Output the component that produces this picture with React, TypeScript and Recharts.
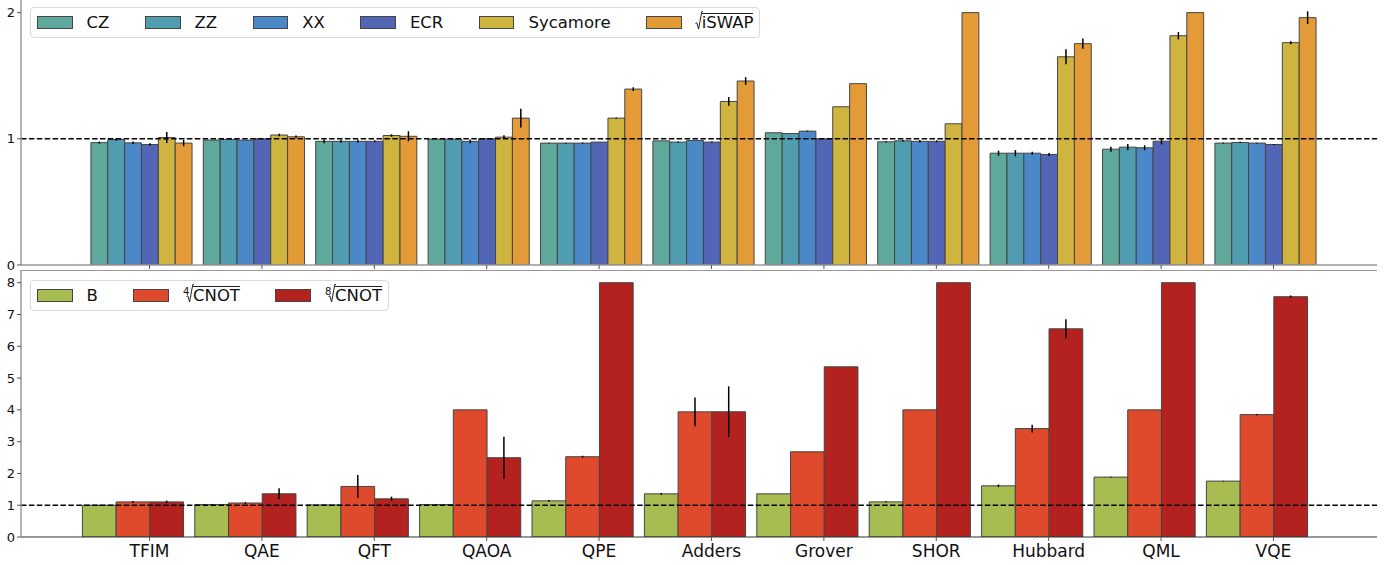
import React from "react"
import { BarChart, Bar, XAxis, YAxis, ReferenceLine, ErrorBar } from "recharts"

// benchmark circuits
const categories = ["TFIM", "QAE", "QFT", "QAOA", "QPE", "Adders", "Grover", "SHOR", "Hubbard", "QML", "VQE"]

// upper panel: normalised cost per native gate set
const cz = [0.97, 0.99, 0.98, 0.997, 0.966, 0.984, 1.048, 0.976, 0.886, 0.918, 0.966]
const zz = [0.994, 0.995, 0.98, 0.997, 0.966, 0.974, 1.042, 0.984, 0.886, 0.934, 0.971]
const xx = [0.968, 0.99, 0.98, 0.98, 0.966, 0.987, 1.061, 0.98, 0.886, 0.929, 0.966]
const ecr = [0.955, 1.0, 0.98, 1.0, 0.974, 0.974, 1.0, 0.98, 0.876, 0.981, 0.955]
const sycamore = [1.01, 1.03, 1.026, 1.013, 1.164, 1.296, 1.254, 1.119, 1.65, 1.817, 1.762]
const iswap = [0.966, 1.016, 1.02, 1.164, 1.394, 1.458, 1.437, 2.0, 1.754, 2.0, 1.96]

const czErr = [0.008, 0, 0.015, 0, 0.003, 0, 0, 0.005, 0.02, 0.02, 0.004]
const zzErr = [0.01, 0, 0.012, 0, 0.003, 0.004, 0, 0.006, 0.025, 0.025, 0.005]
const xxErr = [0.01, 0, 0.012, 0.015, 0.004, 0, 0.004, 0.01, 0.012, 0.02, 0.003]
const ecrErr = [0.01, 0, 0.008, 0, 0, 0.004, 0, 0.008, 0.012, 0.025, 0.004]
const sycamoreErr = [0.044, 0.01, 0.01, 0.015, 0.004, 0.035, 0, 0, 0.06, 0.03, 0.012]
const iswapErr = [0.025, 0.01, 0.04, 0.075, 0.015, 0.03, 0, 0, 0.04, 0, 0.05]

// lower panel: fractional CNOT gate sets
const b = [1.0, 1.02, 1.01, 1.02, 1.137, 1.358, 1.358, 1.105, 1.61, 1.884, 1.758]
const cnot4 = [1.105, 1.07, 1.59, 4.0, 2.526, 3.937, 2.68, 4.0, 3.41, 4.0, 3.85]
const cnot8 = [1.105, 1.36, 1.2, 2.495, 8.0, 3.94, 5.354, 8.0, 6.55, 8.0, 7.56]

const bErr = [0.01, 0.01, 0.01, 0.01, 0.03, 0.03, 0, 0.02, 0.04, 0.01, 0.01]
const cnot4Err = [0.03, 0.03, 0.36, 0, 0.03, 0.45, 0, 0, 0.12, 0, 0.02]
const cnot8Err = [0.04, 0.17, 0.07, 0.66, 0, 0.8, 0, 0, 0.3, 0, 0.04]

const topTicks = [0, 1, 2]
const bottomTicks = [0, 1, 2, 3, 4, 5, 6, 7, 8]

const topRows = categories.map((name, i) => ({
  name,
  cz: cz[i], czErr: czErr[i],
  zz: zz[i], zzErr: zzErr[i],
  xx: xx[i], xxErr: xxErr[i],
  ecr: ecr[i], ecrErr: ecrErr[i],
  sycamore: sycamore[i], sycamoreErr: sycamoreErr[i],
  iswap: iswap[i], iswapErr: iswapErr[i],
}))

const bottomRows = categories.map((name, i) => ({
  name,
  b: b[i], bErr: bErr[i],
  cnot4: cnot4[i], cnot4Err: cnot4Err[i],
  cnot8: cnot8[i], cnot8Err: cnot8Err[i],
}))

const FONT = "'DejaVu Sans', sans-serif"
const EDGE = "#454545"

const topSeries = [
  { key: "cz", label: "CZ", color: "#5ea99b" },
  { key: "zz", label: "ZZ", color: "#509db1" },
  { key: "xx", label: "XX", color: "#4b88c7" },
  { key: "ecr", label: "ECR", color: "#5366b5" },
  { key: "sycamore", label: "Sycamore", color: "#d0b440" },
  { key: "iswap", label: "iSWAP", color: "#e39b38", root: "" },
]

const bottomSeries = [
  { key: "b", label: "B", color: "#a7bd52" },
  { key: "cnot4", label: "CNOT", color: "#de4a2b", root: "4" },
  { key: "cnot8", label: "CNOT", color: "#b4221f", root: "8" },
]

const TOP_BAR = 16.86
const BOTTOM_BAR = 33.72

// matplotlib places the tick half a bar right of the group centre
function makeTick(shift: number, withLabel: boolean) {
  return (props: any) => {
    const { x, y, payload } = props
    const tx = x + shift
    return (
      <g>
        <line x1={tx} x2={tx} y1={y - 4} y2={y} stroke="#555" strokeWidth={1} />
        {withLabel && (
          <text x={tx} y={y + 4} dy="0.71em" textAnchor="middle" fontSize={17} fill="#111" fontFamily={FONT}>
            {payload.value}
          </text>
        )}
      </g>
    )
  }
}

function RootLabel({ index, body }: { index?: string; body: string }) {
  const left = index ? 10 : 6
  return (
    <span style={{ position: "relative", display: "inline-block", paddingLeft: left }}>
      {index && (
        <span style={{ position: "absolute", left: 0, top: 1, fontSize: 10, lineHeight: "10px" }}>{index}</span>
      )}
      <svg style={{ position: "absolute", left: left - 7, top: -2 }} width={8} height={20}>
        <path d="M0.5 12.5 L1.8 11.8 L3.6 18 L6.8 0.5 L8 0.5" stroke="#222" strokeWidth={1} fill="none" />
      </svg>
      <span style={{ display: "inline-block", borderTop: "1px solid #222", lineHeight: "17px" }}>{body}</span>
    </span>
  )
}

function LegendBox({ items, left, top }: { items: any[]; left: number; top: number }) {
  return (
    <div
      style={{
        position: "absolute",
        left,
        top,
        height: 29,
        display: "flex",
        alignItems: "center",
        gap: 35.5,
        padding: "0 6px 0 6px",
        border: "1px solid #d9d9d9",
        borderRadius: 4,
        background: "rgba(255,255,255,0.85)",
        fontFamily: FONT,
        fontSize: 16.5,
        color: "#111",
        lineHeight: "19px",
        zIndex: 2,
      }}
    >
      {items.map((s) => (
        <div key={s.key} style={{ display: "flex", alignItems: "center" }}>
          <span
            style={{
              width: 35.6,
              height: 13.4,
              boxSizing: "border-box",
              background: s.color,
              border: `1px solid ${EDGE}`,
              marginRight: 14,
            }}
          />
          {s.root !== undefined ? <RootLabel index={s.root || undefined} body={s.label} /> : <span>{s.label}</span>}
        </div>
      ))}
    </div>
  )
}

export default function App() {
  return (
    <div style={{ position: "absolute", left: 0, top: 0, width: 1396, height: 565, background: "#fff", fontFamily: FONT }}>
      <div style={{ position: "relative", zIndex: 1, height: 270 }}>
        <BarChart
          width={1396}
          height={274}
          data={topRows}
          margin={{ top: 0, right: 19, bottom: 4, left: 0 }}
          barGap={0}
          barSize={TOP_BAR}
          style={{ overflow: "visible" }}
        >
          <XAxis
            dataKey="name"
            height={5}
            padding={{ left: 63.9, right: 55.7 }}
            tickSize={4}
            tickMargin={0}
            tickLine={false}
            tick={makeTick(TOP_BAR / 2, false)}
            axisLine={{ stroke: "#999", strokeWidth: 1.5 }}
            interval={0}
          />
          <YAxis
            width={21}
            domain={[0, 2.1]}
            ticks={topTicks}
            interval={0}
            tickSize={4}
            tickMargin={2}
            tick={{ fontSize: 13, fill: "#111", fontFamily: FONT }}
            tickLine={{ stroke: "#555" }}
            axisLine={{ stroke: "#999", strokeWidth: 1.5 }}
            allowDataOverflow
          />
          {topSeries.map((s) => (
            <Bar key={s.key} dataKey={s.key} fill={s.color} stroke={EDGE} strokeWidth={1} isAnimationActive={false}>
              <ErrorBar dataKey={`${s.key}Err`} width={0} stroke="#000" strokeWidth={1.5} direction="y" />
            </Bar>
          ))}
          <ReferenceLine y={1} stroke="#000" strokeWidth={1.5} strokeDasharray="5.5 2.4" />
        </BarChart>
      </div>

      <BarChart
        width={1396}
        height={295}
        data={bottomRows}
        margin={{ top: 0, right: 19, bottom: 0, left: 0 }}
        barGap={0}
        barSize={BOTTOM_BAR}
      >
        <XAxis
          dataKey="name"
          height={28}
          padding={{ left: 55.4, right: 64.2 }}
          tickSize={4}
          tickMargin={0}
          tickLine={false}
          tick={makeTick(BOTTOM_BAR / 2, true)}
          axisLine={{ stroke: "#333", strokeWidth: 1.2 }}
          interval={0}
        />
        <YAxis
          width={21}
          domain={[0, 8.4]}
          ticks={bottomTicks}
          interval={0}
          tickSize={4}
          tickMargin={2}
          tick={{ fontSize: 13, fill: "#111", fontFamily: FONT }}
          tickLine={{ stroke: "#555" }}
          axisLine={{ stroke: "#999", strokeWidth: 1.5 }}
          allowDataOverflow
        />
        {bottomSeries.map((s) => (
          <Bar key={s.key} dataKey={s.key} fill={s.color} stroke={EDGE} strokeWidth={1} isAnimationActive={false}>
            <ErrorBar dataKey={`${s.key}Err`} width={0} stroke="#000" strokeWidth={1.5} direction="y" />
          </Bar>
        ))}
        <ReferenceLine y={1} stroke="#000" strokeWidth={1.5} strokeDasharray="5.5 2.4" />
        <ReferenceLine y={8.4} stroke="#333" strokeWidth={1.2} />
      </BarChart>

      <LegendBox items={topSeries} left={30} top={7} />
      <LegendBox items={bottomSeries} left={30} top={280} />
    </div>
  )
}
